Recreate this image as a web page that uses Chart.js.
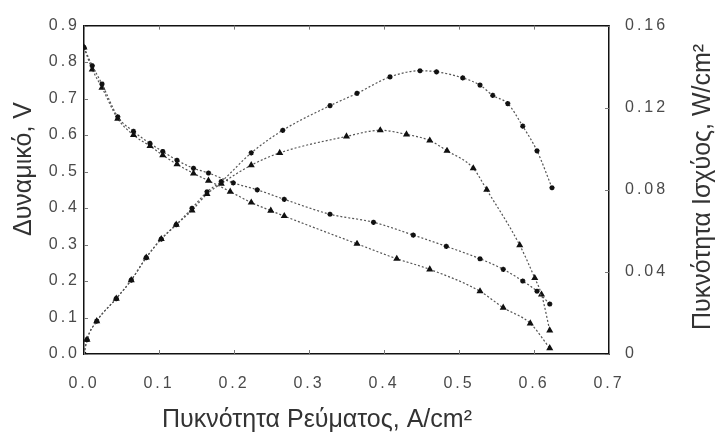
<!DOCTYPE html>
<html>
<head>
<meta charset="utf-8">
<script src="https://cdn.jsdelivr.net/npm/chart.js@4/dist/chart.umd.min.js"></script>
<style>
  html, body { margin: 0; padding: 0; background: #fff; }
  canvas { display: block; }
</style>
</head>
<body>
<canvas id="c" width="719" height="432"></canvas>
<script>
// Πυκνότητα ρεύματος (A/cm2) και δυναμικό (V) - καμπύλη 1
const currentV1 = [0, 0.011, 0.024, 0.045, 0.066, 0.088, 0.105, 0.124, 0.146, 0.166, 0.199, 0.231, 0.267, 0.328, 0.386, 0.439, 0.483, 0.528, 0.559, 0.585, 0.604, 0.621];
const voltage1  = [0.84, 0.79, 0.74, 0.65, 0.61, 0.577, 0.555, 0.531, 0.509, 0.496, 0.469, 0.45, 0.424, 0.383, 0.361, 0.326, 0.295, 0.261, 0.232, 0.2, 0.172, 0.137];

// καμπύλη 2
const currentV2 = [0, 0.011, 0.024, 0.045, 0.066, 0.088, 0.105, 0.124, 0.146, 0.166, 0.195, 0.223, 0.249, 0.267, 0.364, 0.417, 0.461, 0.528, 0.559, 0.595, 0.621];
const voltage2  = [0.84, 0.78, 0.73, 0.645, 0.6, 0.57, 0.545, 0.52, 0.495, 0.475, 0.445, 0.415, 0.393, 0.378, 0.302, 0.261, 0.232, 0.172, 0.127, 0.084, 0.016];

// Πυκνότητα ισχύος (W/cm2)
const currentP1 = [0, 0.004, 0.017, 0.043, 0.063, 0.083, 0.103, 0.123, 0.144, 0.164, 0.183, 0.223, 0.265, 0.328, 0.364, 0.408, 0.448, 0.47, 0.505, 0.528, 0.545, 0.565, 0.585, 0.604, 0.624];
const power1    = [0, 0.007, 0.016, 0.027, 0.036, 0.047, 0.056, 0.063, 0.071, 0.079, 0.084, 0.098, 0.109, 0.121, 0.127, 0.135, 0.138, 0.1375, 0.1345, 0.131, 0.126, 0.122, 0.111, 0.099, 0.081];

const currentP2 = [0, 0.004, 0.017, 0.043, 0.063, 0.083, 0.103, 0.123, 0.144, 0.164, 0.183, 0.223, 0.261, 0.35, 0.395, 0.43, 0.461, 0.484, 0.519, 0.537, 0.581, 0.601, 0.61, 0.621];
const power2    = [0, 0.007, 0.016, 0.027, 0.036, 0.047, 0.056, 0.063, 0.07, 0.078, 0.083, 0.092, 0.098, 0.106, 0.109, 0.107, 0.104, 0.099, 0.0905, 0.08, 0.053, 0.037, 0.029, 0.0115];

const xTicks = [0, 0.1, 0.2, 0.3, 0.4, 0.5, 0.6, 0.7];

const FONT = '"Liberation Sans", Arial, sans-serif';

const toPoints = (xs, ys) => xs.map((x, i) => ({ x: x, y: ys[i] }));

const serie = (xs, ys, axis, style) => ({
  data: toPoints(xs, ys),
  yAxisID: axis,
  borderColor: '#555',
  borderWidth: 1.2,
  borderDash: [2, 2],
  cubicInterpolationMode: 'monotone',
  pointStyle: style,
  pointRadius: 2.6,
  pointBorderWidth: 1.5,
  pointBorderColor: '#111',
  pointBackgroundColor: '#111',
  fill: false,
});

// αραιά γράμματα στις ετικέτες, εσωτερικές υποδιαιρέσεις και τίτλοι
const frameExtras = {
  id: 'frameExtras',
  beforeLayout(chart) { chart.ctx.letterSpacing = '3px'; },
  beforeDraw(chart) { chart.ctx.letterSpacing = '3px'; },
  afterDraw(chart) {
    const { ctx, chartArea: a, scales } = chart;
    ctx.save();
    ctx.letterSpacing = '0px';
    ctx.strokeStyle = '#777';
    ctx.lineWidth = 1;
    ctx.beginPath();
    scales.x.ticks.forEach(t => {
      const px = Math.round(scales.x.getPixelForValue(t.value)) + 0.5;
      ctx.moveTo(px, a.bottom); ctx.lineTo(px, a.bottom - 4);
      ctx.moveTo(px, a.top); ctx.lineTo(px, a.top + 4);
    });
    scales.y.ticks.forEach(t => {
      const py = Math.round(scales.y.getPixelForValue(t.value)) + 0.5;
      ctx.moveTo(a.left, py); ctx.lineTo(a.left + 4, py);
    });
    scales.y1.ticks.forEach(t => {
      const py = Math.round(scales.y1.getPixelForValue(t.value)) + 0.5;
      ctx.moveTo(a.right, py); ctx.lineTo(a.right - 4, py);
    });
    ctx.stroke();

    ctx.fillStyle = '#333';
    ctx.font = '25px ' + FONT;
    ctx.textBaseline = 'alphabetic';
    ctx.textAlign = 'left';
    ctx.fillText('Πυκνότητα Ρεύματος, A/cm²', 162, 427);

    ctx.save();
    ctx.translate(31, 236);
    ctx.rotate(-Math.PI / 2);
    ctx.fillText('Δυναμικό, V', 0, 0);
    ctx.restore();

    ctx.translate(710, 330);
    ctx.rotate(-Math.PI / 2);
    ctx.fillText('Πυκνότητα Ισχύος, W/cm²', 0, 0);
    ctx.restore();
  }
};

const dashedBorder = { display: true, color: '#111', width: 1.5, dash: [2, 2] };
const tickFont = { family: FONT, size: 16 };

new Chart(document.getElementById('c'), {
  type: 'line',
  data: {
    datasets: [
      serie(currentV1, voltage1, 'y', 'star'),
      serie(currentV2, voltage2, 'y', 'triangle'),
      serie(currentP1, power1, 'y1', 'star'),
      serie(currentP2, power2, 'y1', 'triangle'),
    ],
  },
  options: {
    responsive: false,
    animation: false,
    layout: { padding: 0 },
    plugins: { legend: { display: false }, tooltip: { enabled: false } },
    scales: {
      x: {
        type: 'linear', position: 'bottom', min: 0, max: 0.7,
        afterBuildTicks: s => { s.ticks = xTicks.map(v => ({ value: v })); },
        ticks: { callback: v => v.toFixed(1), color: '#4a4a4a', font: tickFont, padding: 20, maxRotation: 0 },
        grid: { drawOnChartArea: false, drawTicks: false },
        border: dashedBorder,
        afterFit: s => { s.height = 78; },
      },
      xTop: {
        type: 'linear', position: 'top', min: 0, max: 0.7,
        ticks: { display: false },
        grid: { drawOnChartArea: false, drawTicks: false },
        border: dashedBorder,
        afterFit: s => { s.height = 20; },
      },
      y: {
        position: 'left', min: 0, max: 0.9,
        ticks: { stepSize: 0.1, callback: v => v.toFixed(1), color: '#4a4a4a', font: tickFont, padding: 4 },
        grid: { drawOnChartArea: false, drawTicks: false },
        border: dashedBorder,
        afterFit: s => { s.width = 84; },
      },
      y1: {
        position: 'right', min: 0, max: 0.16,
        ticks: { stepSize: 0.04, callback: v => (v === 0 ? '0' : v.toFixed(2)), color: '#4a4a4a', font: tickFont, padding: 16 },
        grid: { drawOnChartArea: false, drawTicks: false },
        border: dashedBorder,
        afterFit: s => { s.width = 110; },
      },
    },
  },
  plugins: [frameExtras],
});
</script>
</body>
</html>
